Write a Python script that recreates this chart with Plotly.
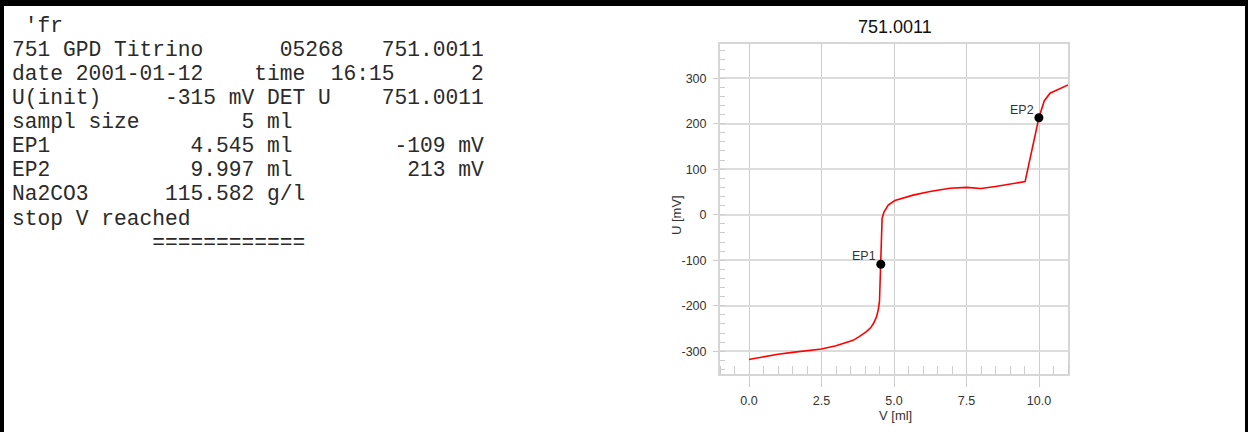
import plotly.graph_objects as go

# ---------------- data ----------------
volume_ml = [0.0, 0.5, 1.0, 1.5, 2.0, 2.5, 3.0, 3.3, 3.59, 3.8, 4.05, 4.2, 4.3, 4.4,
             4.46, 4.5, 4.52, 4.545, 4.55, 4.56, 4.59, 4.65, 4.8, 5.03, 5.66, 6.24,
             6.93, 7.5, 8.0, 8.5, 9.0, 9.52, 9.997, 10.18, 10.38, 10.7, 11.0]
potential_mV = [-318, -312, -306.5, -302.5, -299, -295, -288, -282, -276, -268, -257,
                -248, -238, -224, -208, -190, -150, -109, -60, -30, -8, 5, 21, 31, 43,
                51, 58, 60, 57.5, 62, 67, 72.6, 213, 250, 267, 277, 285]

ep_labels = ["EP1", "EP2"]
ep_volume = [4.545, 9.997]
ep_potential = [-109, 213]

x_ticks = [0.0, 2.5, 5.0, 7.5, 10.0]
y_ticks = [-300, -200, -100, 0, 100, 200, 300]

chart_title = "751.0011"
x_title = "V [ml]"
y_title = "U [mV]"

report_lines = [
    " 'fr",
    "751 GPD Titrino      05268   751.0011",
    "date 2001-01-12    time  16:15      2",
    "U(init)     -315 mV DET U    751.0011",
    "sampl size        5 ml",
    "EP1           4.545 ml        -109 mV",
    "EP2           9.997 ml         213 mV",
    "Na2CO3      115.582 g/l",
    "stop V reached",
    "           ============",
]

# ---------------- geometry ----------------
W, H = 1248, 432
L, R, T, B = 720, 1068, 44, 374


def px(x):
    return (x - L) / (R - L)


def py(y):
    return (B - y) / (B - T)


fig = go.Figure()

fig.add_trace(go.Scatter(x=volume_ml, y=potential_mV, mode="lines",
                         line=dict(color="#ff0000", width=1.6),
                         hoverinfo="skip", cliponaxis=True))
fig.add_trace(go.Scatter(x=ep_volume, y=ep_potential, mode="markers",
                         marker=dict(color="black", size=9),
                         hoverinfo="skip"))

for lab, xv, yv in zip(ep_labels, ep_volume, ep_potential):
    fig.add_annotation(x=xv, y=yv, xref="x", yref="y", text=lab, showarrow=False,
                       xanchor="right", yanchor="bottom", xshift=-3, yshift=-1,
                       font=dict(family="Liberation Sans, Arial", size=12.5, color="#333333"))

tickfont = dict(family="Liberation Sans, Arial", size=12.5, color="#333333")

fig.update_xaxes(range=[-1, 11], tickvals=x_ticks, ticktext=[f"{v:.1f}" for v in x_ticks],
                 showgrid=True, gridcolor="#cccccc", gridwidth=1,
                 showline=True, linecolor="#d6d6d6", linewidth=2, mirror=True,
                 ticks="outside", ticklen=11, tickcolor="#cccccc", tickwidth=1,
                 ticklabelstandoff=3,
                 minor=dict(dtick=0.5, tick0=0, ticks="inside", ticklen=8,
                            tickcolor="#cccccc", tickwidth=1, showgrid=False),
                 zeroline=False, tickfont=tickfont, fixedrange=True)
fig.update_yaxes(range=[-350, 375], tickvals=y_ticks, ticktext=[str(v) for v in y_ticks],
                 showgrid=True, gridcolor="#dcdcdc", gridwidth=2,
                 showline=True, linecolor="#d6d6d6", linewidth=2, mirror=True,
                 ticks="outside", ticklen=5, tickcolor="#cccccc", tickwidth=1,
                 ticklabelstandoff=4,
                 minor=dict(dtick=20, tick0=0, ticks="inside", ticklen=5,
                            tickcolor="#cccccc", tickwidth=1, showgrid=False),
                 zeroline=False, tickfont=tickfont, fixedrange=True)

# titles
fig.add_annotation(x=px(895), y=py(27), xref="paper", yref="paper", text=chart_title,
                   showarrow=False, xanchor="center", yanchor="middle",
                   font=dict(family="Liberation Sans, Arial", size=18, color="#111111"))
fig.add_annotation(x=px(895), y=py(415), xref="paper", yref="paper", text=x_title,
                   showarrow=False, xanchor="center", yanchor="middle",
                   font=dict(family="Liberation Sans, Arial", size=13, color="#333333"))
fig.add_annotation(x=px(676), y=py(215), xref="paper", yref="paper", text=y_title,
                   showarrow=False, xanchor="center", yanchor="middle", textangle=-90,
                   font=dict(family="Liberation Sans, Arial", size=13, color="#333333"))

# report text
row0 = 24.5
row_h = 24.15
for i, line in enumerate(report_lines):
    yc = 48 + (i - 1) * row_h if i > 0 else row0
    fig.add_annotation(x=px(11), y=py(yc + 1.5), xref="paper", yref="paper",
                       text=line.replace(" ", "\u00a0"), showarrow=False,
                       xanchor="left", yanchor="middle", borderpad=0,
                       font=dict(family="Courier New, Liberation Mono, monospace",
                                 size=21.25, color="#2a2a2a"))

# black frame (top, left, right)
for x0, x1, y0, y1 in [(0, W, 0, 6), (0, 4, 0, H), (W - 3, W, 0, H)]:
    fig.add_shape(type="rect", xref="paper", yref="paper",
                  x0=px(x0), x1=px(x1), y0=py(y1), y1=py(y0),
                  fillcolor="black", line=dict(width=0), layer="above")

fig.update_layout(width=W, height=H, margin=dict(l=L, r=W - R, t=T, b=H - B, pad=0),
                  paper_bgcolor="white", plot_bgcolor="white", showlegend=False)

fig.write_html("out.html", config={"displayModeBar": False},
               post_script="document.body.style.margin='0';")
